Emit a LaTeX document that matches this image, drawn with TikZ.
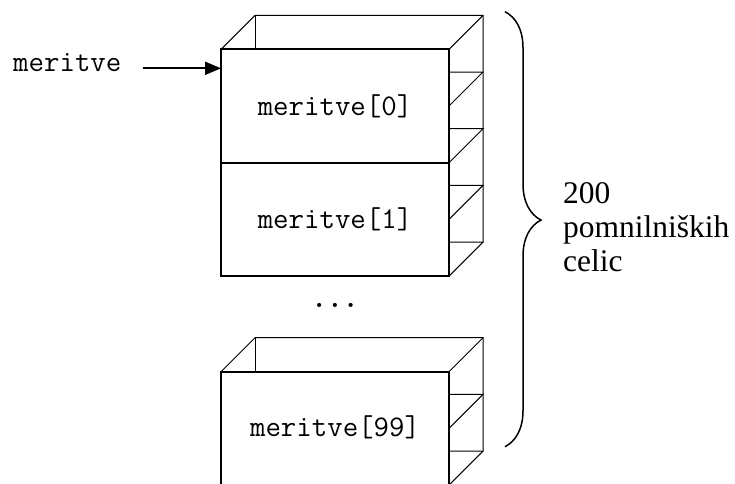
\documentclass[tikz,border=0pt]{standalone}
\usepackage{fontspec}
\setmainfont{Liberation Serif}
\usetikzlibrary{positioning}
\usetikzlibrary{arrows.meta}
\usetikzlibrary{decorations.pathreplacing}

\tikzset{
    cell/.style={draw, line width=1.9pt, outer sep=0pt, inner sep=0pt,
        minimum width=228pt, minimum height=113.4pt,
        font=\ttfamily\fontsize{30}{34}\selectfont},
    back/.style={line width=1pt},
    pointer/.style={-{Triangle[length=16pt,width=13pt]}, line width=2pt},
    curly/.style={decorate, decoration={brace, amplitude=36pt, aspect=0.479}, line width=1.5pt},
}

\begin{document}
\begin{tikzpicture}[x=1pt,y=-1pt]
    \useasboundingbox (0,0) rectangle (735,483);
    \clip (0,0) rectangle (735,483);

    % Top stack: first two cells
    \begin{scope}
        \node[cell] (c0) at (335,106) {meritve[0]};
        \node[cell, below=0pt of c0] (c1) {meritve[1]};
        % Back edges
        \draw[back] (c0.north west) -- ++(34,-34) -- ++(228,0) -- ++(0,226.8);
        \draw[back] (c0.north west) ++(34,-34) -- ++(0,34);
        \draw[back] (c0.north east) -- ++(34,-34);
        % Side shelves
        \foreach \k in {1,...,4} {
            \draw[back] ([yshift=-56.7*\k pt]c0.north east) ++(0,-34) -- ++(34,0) -- ++(-34,34);
        }
    \end{scope}

    % Gap
    \node[font=\ttfamily\bfseries\fontsize{30}{34}\selectfont, anchor=base] (gap) at (335,307) {...};

    % Bottom stack: last cell
    \begin{scope}
        \node[cell] (c99) at (335,428.4) {\raisebox{5pt}{meritve[99]}};
        % Back edges
        \draw[back] (c99.north west) -- ++(34,-34) -- ++(228,0) -- ++(0,113.4);
        \draw[back] (c99.north west) ++(34,-34) -- ++(0,34);
        \draw[back] (c99.north east) -- ++(34,-34);
        % Side shelves
        \foreach \k in {1,2} {
            \draw[back] ([yshift=-56.7*\k pt]c99.north east) ++(0,-34) -- ++(34,0) -- ++(-34,34);
        }
    \end{scope}

    % Pointer to the first cell
    \node[anchor=base west, inner sep=0pt, font=\ttfamily\fontsize{30}{34}\selectfont] (lbl) at (13,71.7) {meritve};
    \coordinate (first) at ([yshift=-19pt]c0.north west);
    \draw[pointer, shorten <=21pt] (lbl.east |- first) -- (first);

    % Brace over all cells
    \coordinate (btop) at (505,11.7);
    \coordinate (bbot) at (505,446.7);
    \draw[curly] (btop) -- (bbot);
    \node[anchor=west, align=left, inner sep=0pt, font=\fontsize{31.5}{34}\selectfont] (note) at (563,227) {200\\pomnilniških\\celic};
\end{tikzpicture}
\end{document}
